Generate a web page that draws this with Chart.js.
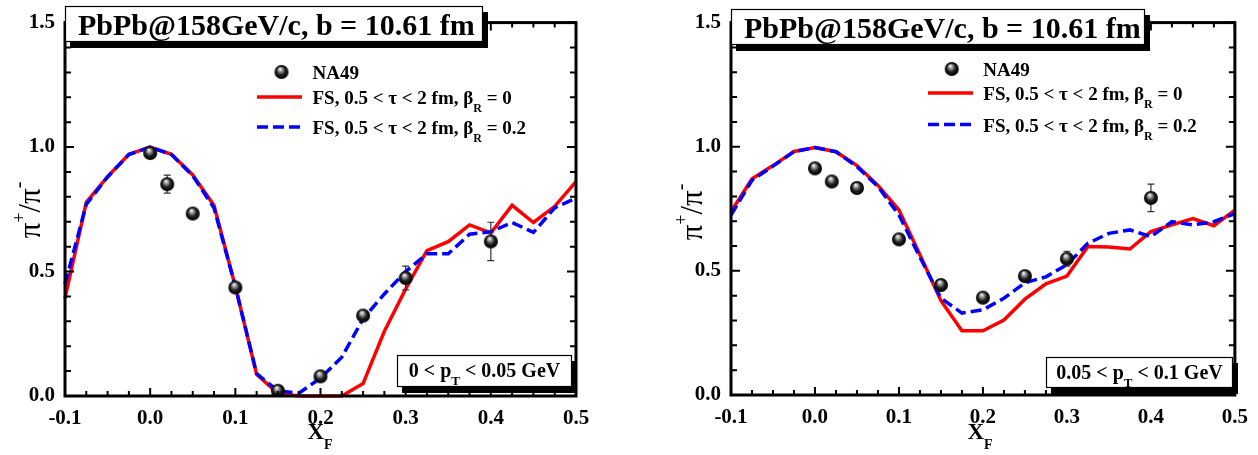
<!DOCTYPE html>
<html><head><meta charset="utf-8">
<script src="https://cdn.jsdelivr.net/npm/chart.js@4.4.1/dist/chart.umd.min.js"></script>
<style>
html,body{margin:0;padding:0;background:#fff;}
#wrap{position:relative;width:1258px;height:455px;overflow:hidden;background:#fff;}
.pane{position:absolute;top:0;width:629px;height:455px;}
</style></head><body>
<div id="wrap">
  <div class="pane" style="left:0"><canvas id="c1" width="629" height="455"></canvas></div>
  <div class="pane" style="left:629px"><canvas id="c2" width="629" height="455"></canvas></div>
</div>
<script>
// ---------------- DATA ----------------
const xF = [-0.1,-0.075,-0.05,-0.025,0,0.025,0.05,0.075,0.1,0.125,0.15,0.175,0.2,0.225,0.25,0.275,0.3,0.325,0.35,0.375,0.4,0.425,0.45,0.475,0.5];

// Left panel: 0 < pT < 0.05 GeV
const fsBeta0Left  = [0.393,0.778,0.881,0.971,1.0,0.971,0.888,0.765,0.44,0.087,0.01,0,0,0,0.05,0.26,0.43,0.584,0.62,0.687,0.655,0.766,0.697,0.762,0.861];
const fsBeta02Left = [0.45,0.77,0.88,0.97,1.0,0.97,0.885,0.755,0.44,0.09,0.02,0.012,0.072,0.156,0.31,0.41,0.50,0.571,0.571,0.65,0.66,0.697,0.657,0.756,0.795];
const na49XLeft    = [0.0,0.02,0.05,0.1,0.15,0.2,0.25,0.3,0.4];
const na49YLeft    = [0.976,0.851,0.733,0.436,0.021,0.079,0.323,0.474,0.621];
const na49ErrLeft  = [0.01,0.036,0.01,0.01,0.01,0.01,0.01,0.048,0.077];

// Right panel: 0.05 < pT < 0.1 GeV
const fsBeta0Right  = [0.738,0.871,0.924,0.981,0.997,0.98,0.924,0.844,0.745,0.565,0.38,0.259,0.259,0.302,0.386,0.448,0.479,0.598,0.596,0.588,0.658,0.685,0.711,0.682,0.745];
const fsBeta02Right = [0.725,0.865,0.922,0.98,0.997,0.98,0.92,0.84,0.725,0.555,0.39,0.33,0.343,0.39,0.452,0.476,0.525,0.611,0.651,0.665,0.638,0.698,0.685,0.698,0.731];
const na49XRight    = [0.0,0.02,0.05,0.1,0.15,0.2,0.25,0.3,0.4];
const na49YRight    = [0.913,0.86,0.834,0.627,0.443,0.392,0.479,0.549,0.794];
const na49ErrRight  = [0.01,0.01,0.01,0.01,0.01,0.01,0.01,0.03,0.055];

// Ticks
const xTickValues = [-0.1,0.0,0.1,0.2,0.3,0.4,0.5];
const xTickLabels = ['-0.1','0.0','0.1','0.2','0.3','0.4','0.5'];
const yTickValues = [0.0,0.5,1.0,1.5];
const yTickLabels = ['0.0','0.5','1.0','1.5'];

// Texts
const titleText = 'PbPb@158GeV/c, b = 10.61 fm';
const legendLabels = ['NA49', 'FS, 0.5 < τ < 2 fm, β|R| = 0', 'FS, 0.5 < τ < 2 fm, β|R| = 0.2'];
const pTLabelLeft = '0 < p|T| < 0.05 GeV';
const pTLabelRight = '0.05 < p|T| < 0.1 GeV';

// ---------------- STYLE / HELPERS ----------------
const SERIF = '"Liberation Serif", "Times New Roman", serif';

function makeBall(r) {
  const s = Math.ceil(2 * r + 2);
  const c = document.createElement('canvas');
  c.width = s; c.height = s;
  const g = c.getContext('2d');
  const cx = s / 2, cy = s / 2;
  const grad = g.createRadialGradient(cx - r * 0.2, cy - r * 0.45, r * 0.05, cx, cy, r);
  grad.addColorStop(0, '#f4f4f4');
  grad.addColorStop(0.3, '#8a8a8a');
  grad.addColorStop(0.6, '#1e1e1e');
  grad.addColorStop(1, '#000');
  g.fillStyle = grad;
  g.beginPath(); g.arc(cx, cy, r, 0, Math.PI * 2); g.fill();
  return c;
}
const ball = makeBall(7);

// draw "a|sub|b" strings: segments between bars are subscripts
function drawRich(ctx, str, x, y, size, subSize, subDy, weight, align) {
  const parts = str.split('|');
  const runs = parts.map((t, i) => ({ t, sub: i % 2 === 1 }));
  let w = 0;
  runs.forEach(r => {
    ctx.font = `${weight} ${r.sub ? subSize : size}px ${SERIF}`;
    r.w = ctx.measureText(r.t).width; w += r.w;
  });
  let cx = align === 'center' ? x - w / 2 : x;
  ctx.textAlign = 'left'; ctx.textBaseline = 'alphabetic'; ctx.fillStyle = '#000';
  runs.forEach(r => {
    ctx.font = `${weight} ${r.sub ? subSize : size}px ${SERIF}`;
    ctx.fillText(r.t, cx, y + (r.sub ? subDy : 0));
    cx += r.w;
  });
  return w;
}

function boxWithShadow(ctx, x, y, w, h, dx, dy) {
  ctx.fillStyle = '#000';
  ctx.fillRect(x + dx, y + dy, w, h);
  ctx.fillStyle = '#fff';
  ctx.fillRect(x, y, w, h);
  ctx.strokeStyle = '#000'; ctx.lineWidth = 1.2;
  ctx.strokeRect(x + 0.5, y + 0.5, w - 1, h - 1);
}

const framePlugin = {
  id: 'frameDeco',
  afterDatasetDraw(chart, args, opts) {
    if (args.index !== 1) return;
    // error bars (drawn above lines, below markers)
    const ctx = chart.ctx, xs = chart.scales.x, ys = chart.scales.y;
    ctx.save();
    ctx.strokeStyle = '#333'; ctx.lineWidth = 1.2;
    opts.errX.forEach((xv, i) => {
      const px = xs.getPixelForValue(xv);
      const p1 = ys.getPixelForValue(opts.errY[i] - opts.err[i]);
      const p2 = ys.getPixelForValue(opts.errY[i] + opts.err[i]);
      ctx.beginPath();
      ctx.moveTo(px, p1); ctx.lineTo(px, p2);
      ctx.moveTo(px - 3.5, p1); ctx.lineTo(px + 3.5, p1);
      ctx.moveTo(px - 3.5, p2); ctx.lineTo(px + 3.5, p2);
      ctx.stroke();
    });
    ctx.restore();
  },
  afterDraw(chart, args, opts) {
    const ctx = chart.ctx, a = chart.chartArea;
    const xs = chart.scales.x, ys = chart.scales.y;
    ctx.save();
    // frame
    ctx.strokeStyle = '#000'; ctx.lineWidth = 3;
    ctx.strokeRect(a.left, a.top, a.right - a.left, a.bottom - a.top);
    // inward ticks
    ctx.lineWidth = 2;
    ctx.beginPath();
    for (let k = 0; k <= 24; k++) {
      const v = -0.1 + k * 0.025;
      const px = xs.getPixelForValue(v);
      const len = (k % 4 === 0) ? 8 : 5;
      ctx.moveTo(px, a.bottom); ctx.lineTo(px, a.bottom - len);
      ctx.moveTo(px, a.top); ctx.lineTo(px, a.top + len);
    }
    for (let k = 0; k <= 15; k++) {
      const v = k * 0.1;
      const py = ys.getPixelForValue(v);
      const len = (k % 5 === 0) ? 9 : 6;
      ctx.moveTo(a.left, py); ctx.lineTo(a.left + len, py);
      ctx.moveTo(a.right, py); ctx.lineTo(a.right - len, py);
    }
    ctx.stroke();

    // title box
    const t = opts.title;
    boxWithShadow(ctx, t.x, t.y, t.w, t.h, 5, 6);
    ctx.fillStyle = '#000';
    ctx.font = `bold 30px ${SERIF}`;
    ctx.textAlign = 'left'; ctx.textBaseline = 'alphabetic';
    ctx.fillText(titleText, t.x + 13, t.y + t.h - 7);

    // legend
    const L = opts.legend;
    ctx.drawImage(ball, L.ballX - ball.width / 2, L.rows[0] - 7 - ball.height / 2);
    ctx.lineWidth = 3.5;
    ctx.strokeStyle = '#ff0000';
    ctx.beginPath(); ctx.moveTo(L.lineX0, L.rows[1] - 7); ctx.lineTo(L.lineX1, L.rows[1] - 7); ctx.stroke();
    ctx.strokeStyle = '#0000ff';
    ctx.setLineDash([11, 5]);
    ctx.beginPath(); ctx.moveTo(L.lineX0, L.rows[2] - 7); ctx.lineTo(L.lineX1, L.rows[2] - 7); ctx.stroke();
    ctx.setLineDash([]);
    legendLabels.forEach((s, i) => drawRich(ctx, s, L.textX, L.rows[i], 19, 12, 8, 'bold', 'left'));

    // pT box
    const P = opts.pt;
    boxWithShadow(ctx, P.x, P.y, P.w, P.h, 5, 6);
    drawRich(ctx, P.text, P.x + P.w / 2, P.y + 22, 20, 13, 8, 'bold', 'center');

    // axis titles
    const X = opts.xTitle;
    drawRich(ctx, 'X|F|', X.x, X.y, 23, 14, 10, 'bold', 'center');

    const Y = opts.yTitle;
    ctx.save();
    ctx.translate(Y.x, Y.y);
    ctx.rotate(-Math.PI / 2);
    // π⁺/π⁻ with raised signs
    const runs = [['π', 31, 0], ['+', 18, -15], ['/π', 31, 0], ['-', 20, -15]];
    let w = 0;
    runs.forEach(r => { ctx.font = `normal ${r[1]}px ${SERIF}`; r.w = ctx.measureText(r[0]).width; w += r.w; });
    let cx = -w / 2;
    ctx.fillStyle = '#000'; ctx.textAlign = 'left'; ctx.textBaseline = 'alphabetic';
    runs.forEach(r => { ctx.font = `normal ${r[1]}px ${SERIF}`; ctx.fillText(r[0], cx, r[2]); cx += r.w; });
    ctx.restore();

    ctx.restore();
  }
};

function makeChart(id, cfg) {
  const ctx = document.getElementById(id);
  const toPts = (xs, ys) => xs.map((x, i) => ({ x, y: ys[i] }));
  return new Chart(ctx, {
    type: 'scatter',
    data: {
      datasets: [
        { label: 'NA49', data: toPts(cfg.na49X, cfg.na49Y), pointStyle: ball, pointRadius: 7, showLine: false, borderColor: '#000', backgroundColor: '#000' },
        { label: 'FS, 0.5 < τ < 2 fm, βR = 0.2', data: toPts(xF, cfg.blue), showLine: true, borderColor: '#0000ff', borderWidth: 3.5, borderDash: [11, 5], pointRadius: 0, tension: 0, fill: false, clip: 3 },
        { label: 'FS, 0.5 < τ < 2 fm, βR = 0', data: toPts(xF, cfg.red), showLine: true, borderColor: '#ff0000', borderWidth: 3.5, pointRadius: 0, tension: 0, fill: false, clip: 3 }
      ]
    },
    options: {
      responsive: false,
      animation: false,
      devicePixelRatio: 1,
      layout: { padding: cfg.padding },
      plugins: {
        legend: { display: false },
        tooltip: { enabled: false },
        frameDeco: cfg.deco
      },
      scales: {
        x: {
          type: 'linear', min: -0.1, max: 0.5,
          grid: { display: false, drawTicks: false }, border: { display: false },
          afterBuildTicks: s => { s.ticks = xTickValues.map(v => ({ value: v })); },
          afterFit: s => { s.height = cfg.xAxisH; },
          ticks: { padding: 10, color: '#000', maxRotation: 0, autoSkip: false,
                   font: { family: SERIF, weight: 'bold', size: 21 },
                   callback: (v, i) => xTickLabels[i] }
        },
        y: {
          type: 'linear', min: 0, max: 1.5,
          grid: { display: false, drawTicks: false }, border: { display: false },
          afterBuildTicks: s => { s.ticks = yTickValues.map(v => ({ value: v })); },
          afterFit: s => { s.width = cfg.yAxisW; },
          ticks: { padding: 10, color: '#000', autoSkip: false,
                   font: { family: SERIF, weight: 'bold', size: 21 },
                   callback: (v, i) => yTickLabels[i] }
        }
      }
    },
    plugins: [framePlugin]
  });
}

makeChart('c1', {
  na49X: na49XLeft, na49Y: na49YLeft, red: fsBeta0Left, blue: fsBeta02Left,
  padding: { left: 0, top: 17, right: 53, bottom: 0 }, yAxisW: 65, xAxisH: 59,
  deco: {
    errX: na49XLeft, errY: na49YLeft, err: na49ErrLeft,
    title: { x: 65, y: 6, w: 418, h: 36 },
    legend: { ballX: 281.5, lineX0: 257, lineX1: 302, textX: 312.5, rows: [79, 104, 134] },
    pt: { x: 397, y: 355, w: 175, h: 32, text: pTLabelLeft },
    xTitle: { x: 320, y: 439 },
    yTitle: { x: 40, y: 210 }
  }
});

makeChart('c2', {
  na49X: na49XRight, na49Y: na49YRight, red: fsBeta0Right, blue: fsBeta02Right,
  padding: { left: 0, top: 17, right: 20, bottom: 0 }, yAxisW: 102, xAxisH: 60,
  deco: {
    errX: na49XRight, errY: na49YRight, err: na49ErrRight,
    title: { x: 102, y: 9, w: 414, h: 36 },
    legend: { ballX: 322.7, lineX0: 299, lineX1: 344, textX: 354.3, rows: [76, 100, 131.5] },
    pt: { x: 417, y: 357, w: 187, h: 31, text: pTLabelRight },
    xTitle: { x: 351, y: 439 },
    yTitle: { x: 73, y: 212 }
  }
});
</script>
</body></html>
